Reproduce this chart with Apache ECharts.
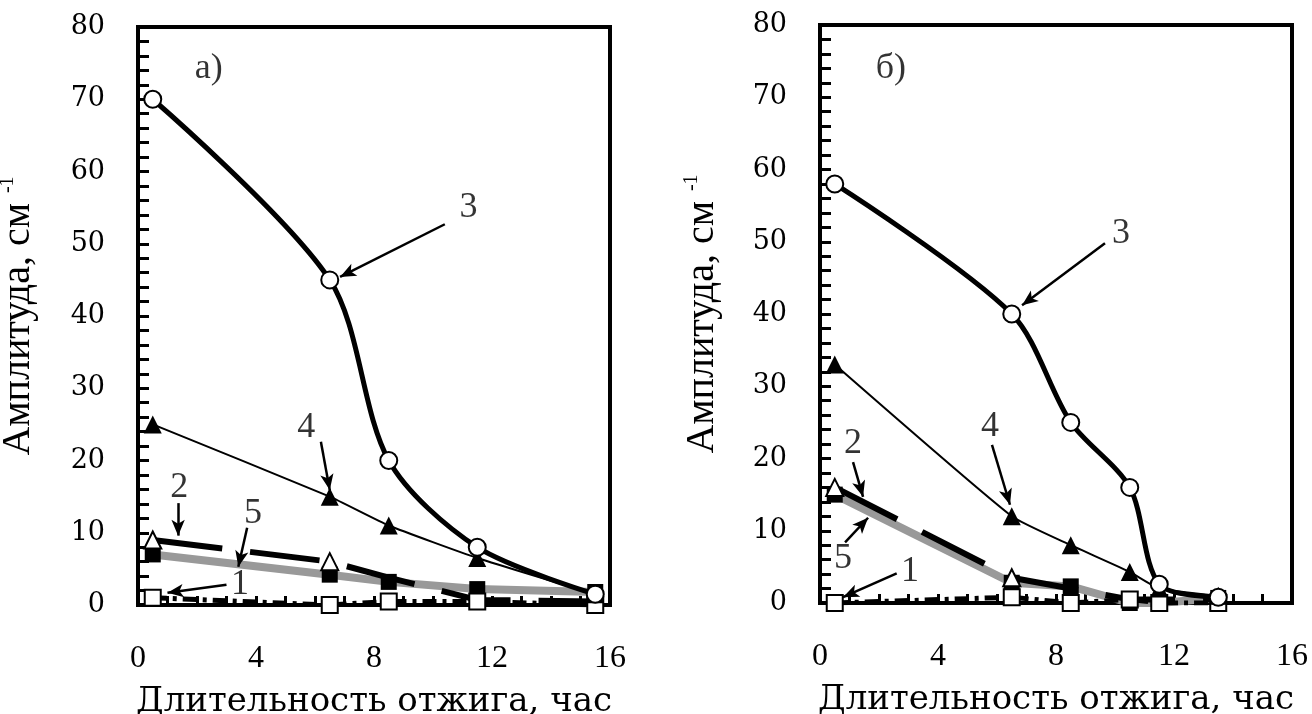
<!DOCTYPE html>
<html>
<head>
<meta charset="utf-8">
<script src="https://cdn.jsdelivr.net/npm/echarts@6/dist/echarts.min.js"></script>
<style>
html, body { margin: 0; padding: 0; background: #fff; }
#chart { width: 1312px; height: 714px; }
</style>
</head>
<body>
<div id="chart"></div>
<script>
// время отжига, час
const hoursA = [0.5, 6.5, 8.5, 11.5, 15.5];
const hoursB = [0.5, 6.5, 8.5, 10.5, 11.5, 13.5];

// панель а)
const a1 = [1, 0, 0.5, 0.5, 0];
const a2 = [9, 6, 3.8, 0.7, 0.5];
const a3 = [70, 45, 20, 8, 1.5];
const a4 = [25, 15, 11, 6.5, 1.5];
const a5 = [7, 4.2, 3.2, 2.2, 1.8];

// панель б)
const b1 = [0, 0.8, 0, 0.5, 0, 0];
const b2 = [16, 3.5, 2, 0.5, 0.5, 0.5];
const b3 = [58, 40, 25, 16, 2.6, 0.8];
const b4 = [33, 12, 8, 4.3, 2, 1];
const b5 = [15, 2.8, 2.3, 0, 0, 0.7];

const xTicks = [0, 4, 8, 12, 16];
const yTicks = [0, 10, 20, 30, 40, 50, 60, 70, 80];

// подписи кривых и стрелки (в координатах данных)
const notesA = [['3', 11.2, 55], ['4', 5.7, 24.5], ['2', 1.4, 16.2], ['5', 3.9, 12.7], ['1', 3.46, 2.8], ['а)', 2.4, 74.3]];
const arrowsA = [[10.4, 52.7, 6.85, 45.4], [6.2, 22.6, 6.5, 15.9], [1.36, 14.1, 1.36, 9.6], [3.7, 10.7, 3.4, 5.3], [3.0, 2.8, 1.0, 1.7]];
const notesB = [['3', 10.2, 51.2], ['4', 5.76, 24.4], ['2', 1.12, 22.1], ['5', 0.78, 6.2], ['1', 3.05, 4.3], ['б)', 2.4, 74]];
const arrowsB = [[9.66, 49.8, 6.85, 41.2], [5.83, 21.9, 6.44, 13.6], [1.12, 19.5, 1.46, 14.7], [0.85, 8.4, 1.63, 11.8], [2.6, 4.1, 0.78, 0.8]];

const pairs = (xs, ys) => xs.map((x, i) => [x, ys[i]]);

function makeX(idx) {
  return {
    gridIndex: idx, type: 'value', min: 0, max: 16, interval: 4,
    name: 'Длительность отжига, час', nameLocation: 'middle', nameGap: 80,
    nameTextStyle: { fontFamily: 'DejaVu Serif', fontSize: 34, color: '#000' },
    axisLine: { show: true, lineStyle: { color: '#000', width: 4 } },
    axisTick: { show: true, inside: true, length: 9, lineStyle: { color: '#000', width: 3 } },
    minorTick: { show: true, splitNumber: 4, length: 9, lineStyle: { color: '#000', width: 3 } },
    axisLabel: {
      margin: 38, fontFamily: 'Liberation Serif', fontSize: 32, color: '#000',
      formatter: v => xTicks.includes(v) ? String(v) : ''
    },
    splitLine: { show: false }
  };
}

function makeY(idx, gap) {
  return {
    gridIndex: idx, type: 'value', min: 0, max: 80, interval: 10,
    name: 'Амплитуда, см {s|-1}', nameLocation: 'middle', nameGap: gap, nameRotate: 90,
    nameTextStyle: {
      fontFamily: 'Liberation Serif', fontSize: 40, color: '#000',
      rich: { s: { fontFamily: 'Liberation Serif', fontSize: 20, verticalAlign: 'top', padding: [0, 0, 20, 0] } }
    },
    axisLine: { show: true, lineStyle: { color: '#000', width: 4 } },
    axisTick: { show: true, inside: true, length: 11, lineStyle: { color: '#000', width: 3 } },
    minorTick: { show: true, splitNumber: 5, length: 11, lineStyle: { color: '#000', width: 3 } },
    axisLabel: {
      margin: 33, fontFamily: 'DejaVu Serif', fontSize: 27, color: '#000',
      formatter: v => yTicks.includes(v) ? String(v) : ''
    },
    splitLine: { show: false }
  };
}

function makeSeries(idx, xs, s1, s2, s3, s4, s5, notes, arrows) {
  const base = { xAxisIndex: idx, yAxisIndex: idx, type: 'line', animation: false };
  return [
    Object.assign({}, base, {
      name: '5', data: pairs(xs, s5), symbol: 'rect', symbolSize: 16, z: 2,
      lineStyle: { color: '#999', width: 8 }, itemStyle: { color: '#000' }
    }),
    Object.assign({}, base, {
      name: '1', data: pairs(xs, s1), symbol: 'emptyRect', symbolSize: 16, z: 3,
      lineStyle: { color: '#000', width: 5, type: [14, 6, 4, 6] },
      itemStyle: { color: '#000', borderWidth: 2.5 }
    }),
    Object.assign({}, base, {
      name: '2', data: pairs(xs, s2), z: 3,
      symbol: (v, p) => p.dataIndex < 2 ? 'emptyTriangle' : 'none', symbolSize: 17,
      lineStyle: { color: '#000', width: 6, type: [70, 28] },
      itemStyle: { color: '#000', borderWidth: 2 }
    }),
    Object.assign({}, base, {
      name: '4', data: pairs(xs, s4), symbol: 'triangle', symbolSize: 18, z: 4, smooth: 0.15,
      lineStyle: { color: '#000', width: 2 }, itemStyle: { color: '#000' }
    }),
    Object.assign({}, base, {
      name: '3', data: pairs(xs, s3), symbol: 'emptyCircle', symbolSize: 17, z: 5, smooth: 0.3,
      lineStyle: { color: '#000', width: 5 }, itemStyle: { color: '#000', borderWidth: 2.5 }
    }),
    {
      type: 'scatter', xAxisIndex: idx, yAxisIndex: idx, symbolSize: 0, z: 6, animation: false,
      data: notes.map(n => ({ value: [n[1], n[2]], name: n[0] })),
      label: {
        show: true, position: 'inside', formatter: p => p.name,
        fontFamily: 'Liberation Serif', fontSize: 36, color: '#000', textBorderWidth: 0
      },
      markLine: {
        silent: true, animation: false, symbol: ['none', 'arrow'], symbolSize: [10, 16],
        label: { show: false },
        lineStyle: { color: '#000', width: 2.5, type: 'solid' },
        data: arrows.map(a => [{ coord: [a[0], a[1]] }, { coord: [a[2], a[3]] }])
      }
    }
  ];
}

const chart = echarts.init(document.getElementById('chart'));
chart.setOption({
  backgroundColor: '#fff',
  grid: [
    { left: 138, top: 27, width: 472, height: 578, outerBoundsMode: 'none', show: true, borderColor: '#000', borderWidth: 4 },
    { left: 820, top: 25, width: 472, height: 578, outerBoundsMode: 'none', show: true, borderColor: '#000', borderWidth: 4 }
  ],
  xAxis: [makeX(0), makeX(1)],
  yAxis: [makeY(0, 100), makeY(1, 98)],
  series: [].concat(
    makeSeries(0, hoursA, a1, a2, a3, a4, a5, notesA, arrowsA),
    makeSeries(1, hoursB, b1, b2, b3, b4, b5, notesB, arrowsB)
  )
});
</script>
</body>
</html>
